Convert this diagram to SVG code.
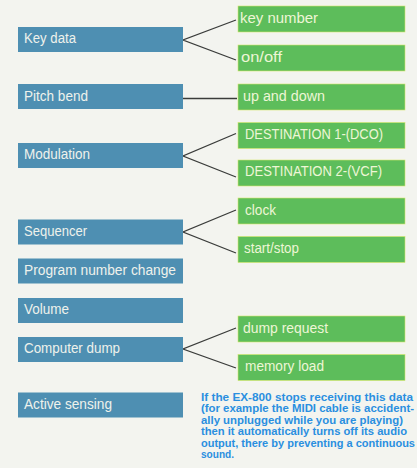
<svg xmlns="http://www.w3.org/2000/svg" width="417" height="468" viewBox="0 0 417 468">
<style>
.bg{fill:#f3f4ef}
.b rect{fill:#4e8fb2}
.g rect{fill:#5dbd5b;stroke:#d8e86a;stroke-width:0.6}
.b text{font-family:"Liberation Sans",Arial,sans-serif;font-size:15.5px;fill:#eef2ec}
.g text{font-family:"Liberation Sans",Arial,sans-serif;font-size:15.5px;fill:#eef6d6}
.c path{fill:none;stroke:#3a3c3a;stroke-width:1.3}
.note{font-family:"Liberation Sans",Arial,sans-serif;font-size:11px;font-weight:bold;fill:#2a8fe0}
</style>
<rect class="bg" x="0" y="0" width="417" height="468"/>
<g class="c" id="connectors">
<path d="M236,20 L183,40 L236,60"/>
<path d="M183,98.5 L237,98.5"/>
<path d="M236,133.5 L183,156 L236,177"/>
<path d="M236,210 L183,232 L236,253"/>
<path d="M236,328 L183,349 L236,368"/>
</g>
<g class="b" id="key-data"><rect x="18" y="27" width="165" height="25"/><text x="24" y="43" textLength="52" lengthAdjust="spacingAndGlyphs">Key data</text></g>
<g class="b" id="pitch-bend"><rect x="18" y="84" width="165" height="25"/><text x="24" y="100.5" textLength="64" lengthAdjust="spacingAndGlyphs">Pitch bend</text></g>
<g class="b" id="modulation"><rect x="18" y="143" width="165" height="25"/><text x="24" y="159" textLength="66" lengthAdjust="spacingAndGlyphs">Modulation</text></g>
<g class="b" id="sequencer"><rect x="18" y="219.5" width="165" height="25"/><text x="24" y="235.5" textLength="63" lengthAdjust="spacingAndGlyphs">Sequencer</text></g>
<g class="b" id="program-number-change"><rect x="18" y="258.5" width="165" height="25"/><text x="24" y="274.5" textLength="152" lengthAdjust="spacingAndGlyphs">Program number change</text></g>
<g class="b" id="volume"><rect x="18" y="298" width="165" height="25"/><text x="24" y="314" textLength="45" lengthAdjust="spacingAndGlyphs">Volume</text></g>
<g class="b" id="computer-dump"><rect x="18" y="337" width="165" height="25"/><text x="24" y="353" textLength="96" lengthAdjust="spacingAndGlyphs">Computer dump</text></g>
<g class="b" id="active-sensing"><rect x="18" y="392.5" width="165" height="25"/><text x="24" y="408.5" textLength="88" lengthAdjust="spacingAndGlyphs">Active sensing</text></g>
<g class="g" id="key-number"><rect x="238" y="6" width="167" height="26"/><text x="240" y="23" textLength="78" lengthAdjust="spacingAndGlyphs">key number</text></g>
<g class="g" id="on-off"><rect x="238" y="45" width="167" height="26"/><text x="241" y="61.5" textLength="41" lengthAdjust="spacingAndGlyphs">on/off</text></g>
<g class="g" id="up-and-down"><rect x="238" y="84" width="167" height="26"/><text x="243" y="100.5" textLength="82" lengthAdjust="spacingAndGlyphs">up and down</text></g>
<g class="g" id="destination-1"><rect x="238" y="122.5" width="167" height="26"/><text x="245" y="138.5" textLength="138" lengthAdjust="spacingAndGlyphs">DESTINATION 1-(DCO)</text></g>
<g class="g" id="destination-2"><rect x="238" y="160" width="167" height="26"/><text x="245" y="176" textLength="137" lengthAdjust="spacingAndGlyphs">DESTINATION 2-(VCF)</text></g>
<g class="g" id="clock"><rect x="238" y="198" width="167" height="26"/><text x="245" y="214.5" textLength="31" lengthAdjust="spacingAndGlyphs">clock</text></g>
<g class="g" id="start-stop"><rect x="238" y="236.5" width="167" height="26"/><text x="244" y="253" textLength="55" lengthAdjust="spacingAndGlyphs">start/stop</text></g>
<g class="g" id="dump-request"><rect x="238" y="316" width="167" height="26"/><text x="243" y="332.5" textLength="85" lengthAdjust="spacingAndGlyphs">dump request</text></g>
<g class="g" id="memory-load"><rect x="238" y="354.5" width="167" height="26"/><text x="245" y="371" textLength="79" lengthAdjust="spacingAndGlyphs">memory load</text></g>
<g id="note">
<text class="note" x="201" y="400.5" textLength="212" lengthAdjust="spacingAndGlyphs">If the EX-800 stops receiving this data</text>
<text class="note" x="201" y="412" textLength="213" lengthAdjust="spacingAndGlyphs">(for example the MIDI cable is accident-</text>
<text class="note" x="201" y="423.5" textLength="202" lengthAdjust="spacingAndGlyphs">ally unplugged while you are playing)</text>
<text class="note" x="201" y="435" textLength="206" lengthAdjust="spacingAndGlyphs">then it automatically turns off its audio</text>
<text class="note" x="201" y="446.5" textLength="214" lengthAdjust="spacingAndGlyphs">output, there by preventing a continuous</text>
<text class="note" x="201" y="458" textLength="33" lengthAdjust="spacingAndGlyphs">sound.</text>
</g>
</svg>
